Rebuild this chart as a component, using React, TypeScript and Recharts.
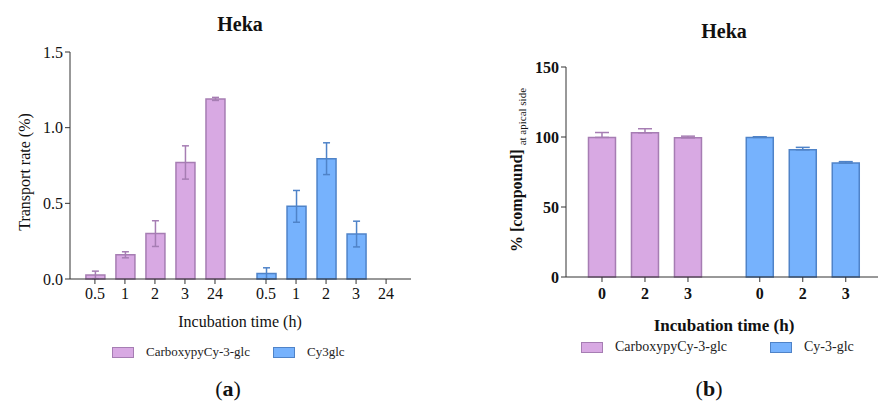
import React from "react";
import { BarChart, Bar, XAxis, YAxis, ErrorBar, Legend } from "recharts";

// (a) transport rate, Heka
const rateTimes = ["0.5", "1", "2", "3", "24"];
const carboxyRate = [0.027, 0.16, 0.3, 0.77, 1.19];
const carboxyRateErr = [0.025, 0.02, 0.085, 0.11, 0.01];
const cy3Rate = [0.037, 0.48, 0.795, 0.297, null];
const cy3RateErr = [0.037, 0.105, 0.105, 0.085, null];
const rateTicks = [0, 0.5, 1, 1.5];

// (b) % compound at apical side, Heka
const apicalTimes = ["0", "2", "3"];
const carboxyApical = [99.7, 103.0, 99.4];
const carboxyApicalErr = [3.5, 2.9, 1.2];
const cy3Apical = [99.7, 90.9, 81.4];
const cy3ApicalErr = [0.5, 1.7, 1.0];
const apicalTicks = [0, 50, 100, 150];

const FONT = "Liberation Serif, DejaVu Serif, serif";
const PINK = "#d8a9e3";
const PINK_EDGE = "#a67db3";
const BLUE = "#76b2fd";
const BLUE_EDGE = "#4f83c8";
const AXIS = "#333";

// two groups of bars on one numeric axis, with an extra gap between groups
const buildRows = (
  times: string[],
  a: (number | null)[],
  aErr: (number | null)[],
  b: (number | null)[],
  bErr: (number | null)[],
  gap: number,
  oneSided: boolean
) => {
  const rows: any[] = [];
  const err = (v: number | null) => (v == null ? null : oneSided ? [0, v] : v);
  times.forEach((t, i) => {
    rows.push({ pos: 1 + i, label: t, a: a[i], aErr: err(aErr[i]), b: null, bErr: null });
  });
  times.forEach((t, i) => {
    rows.push({ pos: 1 + i + times.length + gap, label: t, a: null, aErr: null, b: b[i], bErr: err(bErr[i]) });
  });
  return rows;
};

const rateRows = buildRows(rateTimes, carboxyRate, carboxyRateErr, cy3Rate, cy3RateErr, 0.7, false);
const apicalRows = buildRows(apicalTimes, carboxyApical, carboxyApicalErr, cy3Apical, cy3ApicalErr, 0.67, true);

const labelOf = (rows: any[]) => (v: number) => {
  const r = rows.find((x) => Math.abs(x.pos - v) < 1e-6);
  return r ? r.label : "";
};

type Item = { name: string; fill: string; edge: string };

const LegendRow = ({ items, xs, fontSize }: { items: Item[]; xs: number[]; fontSize: number }) => (
  <div style={{ position: "relative", height: 20, fontFamily: FONT, fontSize, color: "#222" }}>
    {items.map((it, i) => (
      <div key={it.name} style={{ position: "absolute", left: xs[i], top: 0, display: "flex", alignItems: "center", height: 20, whiteSpace: "nowrap" }}>
        <span style={{ display: "inline-block", width: 20, height: 9, background: it.fill, border: `1px solid ${it.edge}`, marginRight: 12 }} />
        {it.name}
      </div>
    ))}
  </div>
);

const Text = ({ x, y, size, bold, children }: any) => (
  <div
    style={{
      position: "absolute",
      left: x - 150,
      top: y - 15,
      width: 300,
      height: 30,
      lineHeight: "30px",
      textAlign: "center",
      fontFamily: FONT,
      fontSize: size,
      fontWeight: bold ? "bold" : "normal",
      color: "#111",
      whiteSpace: "nowrap",
    }}
  >
    {children}
  </div>
);

const VText = ({ x, y, children }: any) => (
  <div
    style={{
      position: "absolute",
      left: x,
      top: y,
      transform: "translate(-50%, -50%) rotate(-90deg)",
      fontFamily: FONT,
      color: "#111",
      whiteSpace: "nowrap",
    }}
  >
    {children}
  </div>
);

const App = () => {
  const rateItems: Item[] = [
    { name: "CarboxypyCy-3-glc", fill: PINK, edge: PINK_EDGE },
    { name: "Cy3glc", fill: BLUE, edge: BLUE_EDGE },
  ];
  const apicalItems: Item[] = [
    { name: "CarboxypyCy-3-glc", fill: PINK, edge: PINK_EDGE },
    { name: "Cy-3-glc", fill: BLUE, edge: BLUE_EDGE },
  ];
  return (
    <div style={{ position: "absolute", left: 0, top: 0, width: 878, height: 403, background: "#fff", overflow: "hidden", fontFamily: FONT }}>
      <div style={{ position: "absolute", left: 0, top: 0 }}>
        <BarChart width={440} height={403} data={rateRows} margin={{ top: 52, right: 29, left: 0, bottom: 94 }}>
          <XAxis
            type="number"
            dataKey="pos"
            domain={[0.17, 11.53]}
            ticks={rateRows.map((r) => r.pos)}
            interval={0}
            tickFormatter={labelOf(rateRows)}
            height={30}
            stroke={AXIS}
            tickSize={5}
            tickMargin={4}
            tick={{ fill: "#111", fontFamily: FONT, fontSize: 16 }}
          />
          <YAxis
            width={70}
            domain={[0, 1.5]}
            ticks={rateTicks}
            tickFormatter={(v: number) => v.toFixed(1)}
            stroke={AXIS}
            tickSize={5}
            tickMargin={2}
            tick={{ fill: "#111", fontFamily: FONT, fontSize: 16 }}
          />
          <Bar dataKey="a" name="CarboxypyCy-3-glc" stackId="s" barSize={19} fill={PINK} stroke={PINK_EDGE} strokeWidth={1.5} isAnimationActive={false}>
            <ErrorBar dataKey="aErr" width={3.5} stroke={PINK_EDGE} strokeWidth={1.5} direction="y" />
          </Bar>
          <Bar dataKey="b" name="Cy3glc" stackId="s" barSize={19} fill={BLUE} stroke={BLUE_EDGE} strokeWidth={1.5} isAnimationActive={false}>
            <ErrorBar dataKey="bErr" width={3.5} stroke={BLUE_EDGE} strokeWidth={1.5} direction="y" />
          </Bar>
          <Legend
            verticalAlign="middle"
            layout="horizontal"
            wrapperStyle={{ top: 342, left: 0, width: 440 }}
            content={() => <LegendRow items={rateItems} xs={[112, 273]} fontSize={13} />}
          />
        </BarChart>
      </div>

      <div style={{ position: "absolute", left: 440, top: 0 }}>
        <BarChart width={438} height={403} data={apicalRows} margin={{ top: 67, right: 0, left: 60, bottom: 96 }}>
          <XAxis
            type="number"
            dataKey="pos"
            domain={[0.163, 7.42]}
            ticks={apicalRows.map((r) => r.pos)}
            interval={0}
            tickFormatter={labelOf(apicalRows)}
            height={30}
            stroke={AXIS}
            tickSize={5}
            tickMargin={6}
            tick={{ fill: "#111", fontFamily: FONT, fontSize: 16, fontWeight: "bold" }}
          />
          <YAxis
            width={66}
            domain={[0, 150]}
            ticks={apicalTicks}
            stroke={AXIS}
            tickSize={5}
            tickMargin={2}
            tick={{ fill: "#111", fontFamily: FONT, fontSize: 16, fontWeight: "bold" }}
          />
          <Bar dataKey="a" name="CarboxypyCy-3-glc" stackId="s" barSize={27} fill={PINK} stroke={PINK_EDGE} strokeWidth={1.5} isAnimationActive={false}>
            <ErrorBar dataKey="aErr" width={7} stroke={PINK_EDGE} strokeWidth={1.5} direction="y" />
          </Bar>
          <Bar dataKey="b" name="Cy-3-glc" stackId="s" barSize={27} fill={BLUE} stroke={BLUE_EDGE} strokeWidth={1.5} isAnimationActive={false}>
            <ErrorBar dataKey="bErr" width={7} stroke={BLUE_EDGE} strokeWidth={1.5} direction="y" />
          </Bar>
          <Legend
            verticalAlign="middle"
            layout="horizontal"
            wrapperStyle={{ top: 337, left: 0, width: 438 }}
            content={() => <LegendRow items={apicalItems} xs={[141, 330]} fontSize={14} />}
          />
        </BarChart>
      </div>

      <Text x={240} y={24} size={20} bold>Heka</Text>
      <Text x={724} y={31} size={20} bold>Heka</Text>
      <Text x={240} y={322} size={16}>Incubation time (h)</Text>
      <Text x={724} y={326} size={17} bold>Incubation time (h)</Text>
      <Text x={228} y={389} size={22}>(<b>a</b>)</Text>
      <Text x={709} y={389} size={22}>(<b>b</b>)</Text>
      <VText x={25} y={172}>
        <span style={{ fontSize: 16 }}>Transport rate (%)</span>
      </VText>
      <VText x={518} y={170}>
        <span style={{ fontSize: 16, fontWeight: "bold" }}>% [compound]</span>{" "}
        <span style={{ fontSize: 11, verticalAlign: "sub" }}>at apical side</span>
      </VText>
    </div>
  );
};

export default App;
